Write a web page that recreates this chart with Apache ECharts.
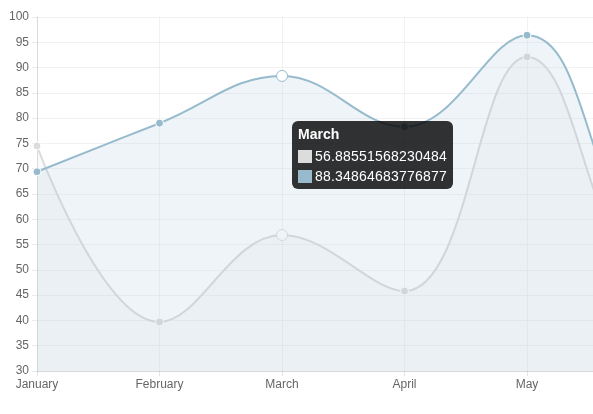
<!DOCTYPE html>
<html>
<head>
<meta charset="utf-8">
<script src="https://cdn.jsdelivr.net/npm/echarts@6/dist/echarts.min.js"></script>
<style>
html,body{margin:0;padding:0;background:#fff;overflow:hidden;width:593px;height:414px;}
#wrap{width:593px;height:414px;overflow:hidden;position:relative;}
#chart{width:772px;height:414px;position:absolute;left:0;top:0;}
</style>
</head>
<body>
<div id="wrap"><div id="chart"></div></div>
<script>
const categories = ["January","February","March","April","May","June","July"];
const greyValues = [74.5, 39.7, 56.88551568230484, 45.8, 92.1, 45.5, 40];
const blueValues = [69.4, 79.0, 88.34864683776877, 78.3, 96.4, 54.7, 50];
const yTicks = {min: 30, max: 100, interval: 5};
const highlightIndex = 2;

const GREY = 'rgba(220,220,220,1)';
const BLUE = 'rgba(151,187,205,1)';
const FONT = '"Liberation Sans", Arial, Helvetica, sans-serif';

function buildData(values, color) {
  return values.map((v, i) => i === highlightIndex
    ? {value: v, symbolSize: 10, itemStyle: {color: '#fff', borderColor: color, borderWidth: 1}}
    : {value: v});
}

const chart = echarts.init(document.getElementById('chart'), null, {renderer: 'canvas', width: 772, height: 414});

function makeSeries(name, values, color, fill, z) {
  return {
    name: name,
    type: 'line',
    data: buildData(values, color),
    smooth: 0.4,
    symbol: 'circle',
    symbolSize: 8,
    showAllSymbol: true,
    z: z,
    lineStyle: {color: color, width: 2},
    itemStyle: {color: color, borderColor: '#fff', borderWidth: 1},
    areaStyle: {color: fill, origin: 'start'},
    emphasis: {disabled: true},
    animation: false
  };
}

chart.setOption({
  animation: false,
  textStyle: {fontFamily: FONT},
  grid: {left: 37, top: 17, bottom: 43, right: 0, containLabel: false, outerBoundsMode: 'none'},
  xAxis: {
    type: 'category',
    data: categories,
    boundaryGap: false,
    axisLine: {lineStyle: {color: 'rgba(0,0,0,0.1)'}},
    axisTick: {show: true, length: 5, alignWithLabel: true, lineStyle: {color: 'rgba(0,0,0,0.1)'}},
    axisLabel: {color: '#666', fontSize: 12, fontFamily: FONT, margin: 8},
    splitLine: {show: true, lineStyle: {color: 'rgba(0,0,0,0.05)'}}
  },
  yAxis: {
    type: 'value',
    min: yTicks.min, max: yTicks.max, interval: yTicks.interval,
    axisLine: {show: true, lineStyle: {color: 'rgba(0,0,0,0.1)'}},
    axisTick: {show: true, length: 5, lineStyle: {color: 'rgba(0,0,0,0.08)'}},
    axisLabel: {color: '#666', fontSize: 12, fontFamily: FONT, margin: 8},
    splitLine: {show: true, lineStyle: {color: 'rgba(0,0,0,0.05)'}}
  },
  tooltip: {
    trigger: 'axis',
    triggerOn: 'none',
    alwaysShowContent: true,
    confine: false,
    axisPointer: {type: 'none'},
    backgroundColor: 'rgba(0,0,0,0.8)',
    borderWidth: 0,
    padding: [4, 6, 3, 6],
    extraCssText: 'border-radius:6px;box-shadow:none;',
    transitionDuration: 0,
    position: function (point, params, dom, rect, size) {
      const idx = params[0].dataIndex;
      const ys = params.map(p => chart.convertToPixel({xAxisIndex: 0, yAxisIndex: 0}, [idx, p.value])[1]);
      const px = chart.convertToPixel({xAxisIndex: 0, yAxisIndex: 0}, [idx, params[0].value])[0];
      const mean = ys.reduce((a, b) => a + b, 0) / ys.length;
      return [px + 10, mean - size.contentSize[1] / 2];
    },
    formatter: function (params) {
      const colors = [GREY, BLUE];
      const f = FONT.replace(/"/g, "'");
      let html = '<div style="font:bold 14px ' + f + ';color:#fff;line-height:18px;height:18px;">' + params[0].axisValue + '</div>';
      params.forEach((p, i) => {
        html += '<div style="font:14px ' + f + ';color:#fff;line-height:20px;height:20px;white-space:nowrap;letter-spacing:0.2px;' + (i === 0 ? 'margin-top:3px;' : '') + '">' +
          '<span style="display:inline-block;width:14px;height:13px;background:' + colors[p.seriesIndex] + ';vertical-align:middle;margin-right:3px;position:relative;top:-1px;"></span>' +
          p.value + '</div>';
      });
      return html;
    }
  },
  series: [
    makeSeries('Grey', greyValues, GREY, 'rgba(220,220,220,0.2)', 2),
    makeSeries('Blue', blueValues, BLUE, 'rgba(151,187,205,0.23)', 3)
  ]
});

chart.dispatchAction({type: 'showTip', seriesIndex: 0, dataIndex: highlightIndex});
</script>
</body>
</html>
